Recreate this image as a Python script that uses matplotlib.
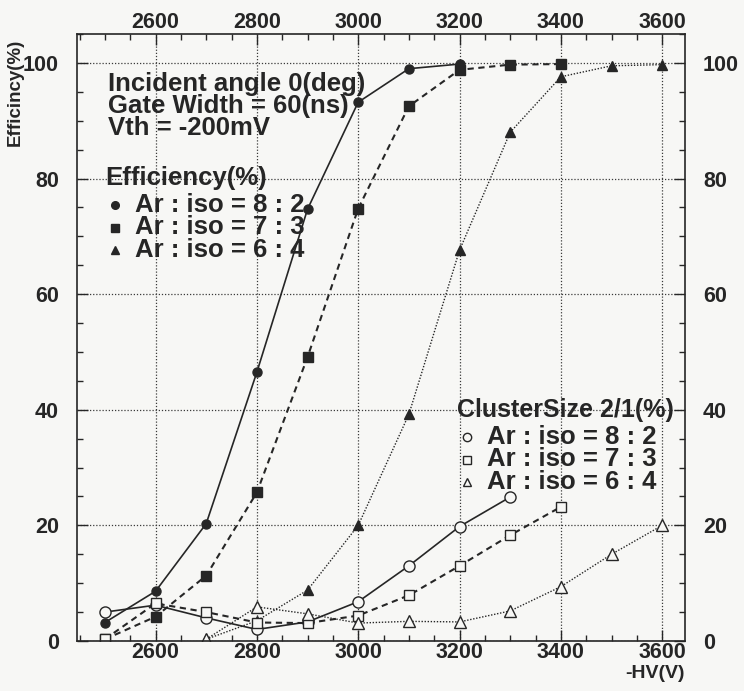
import matplotlib
matplotlib.use('Agg')
import matplotlib.pyplot as plt
from matplotlib.lines import Line2D
from matplotlib.ticker import MultipleLocator

plt.rcParams['font.family'] = ['Liberation Sans', 'DejaVu Sans']
plt.rcParams['font.weight'] = 'bold'

INK = '#262626'
PAPER = '#f7f7f5'

# efficiency (%) vs -HV for the three gas mixtures
eff_82_hv = [2500, 2600, 2700, 2800, 2900, 3000, 3100, 3200]
eff_82 = [3.2, 8.6, 20.3, 46.5, 74.7, 93.2, 99.0, 99.8]

eff_73_hv = [2500, 2600, 2700, 2800, 2900, 3000, 3100, 3200, 3300, 3400]
eff_73 = [0.3, 4.2, 11.3, 25.7, 49.1, 74.8, 92.5, 98.8, 99.7, 99.8]

eff_64_hv = [2700, 2800, 2900, 3000, 3100, 3200, 3300, 3400, 3500, 3600]
eff_64 = [0.3, 3.5, 8.8, 20.0, 39.2, 67.6, 88.0, 97.6, 99.5, 99.7]

# cluster size 2/1 ratio (%)
cs_82_hv = [2500, 2600, 2700, 2800, 2900, 3000, 3100, 3200, 3300]
cs_82 = [5.0, 6.2, 4.0, 2.0, 3.3, 6.8, 13.0, 19.8, 24.9]

cs_73_hv = [2500, 2600, 2700, 2800, 2900, 3000, 3100, 3200, 3300, 3400]
cs_73 = [0.3, 6.5, 5.0, 3.2, 3.1, 4.4, 7.9, 13.0, 18.3, 23.2]

cs_64_hv = [2700, 2800, 2900, 3000, 3100, 3200, 3300, 3400, 3500, 3600]
cs_64 = [0.3, 5.9, 4.7, 3.1, 3.4, 3.3, 5.2, 9.4, 15.0, 20.0]

mix_labels = ['Ar : iso = 8 : 2', 'Ar : iso = 7 : 3', 'Ar : iso = 6 : 4']

solid = dict(ls='-', lw=1.2)
dashed = dict(ls=(0, (3.0, 2.2)), lw=1.5)
dotted = dict(ls=(0, (1.0, 1.2)), lw=1.0)

fig = plt.figure(figsize=(7.44, 6.91), dpi=100, facecolor=PAPER)
ax = fig.add_axes([77 / 744, 1 - 641 / 691, 608 / 744, 607 / 691])
ax.set_facecolor(PAPER)

ax.set_xlim(2445, 3645)
ax.set_ylim(0, 105)

# efficiency curves (filled markers)
ax.plot(eff_82_hv, eff_82, color=INK, marker='o', ms=6.5, mfc=INK, mec=INK, **solid)
ax.plot(eff_73_hv, eff_73, color=INK, marker='s', ms=6.5, mfc=INK, mec=INK, **dashed)
ax.plot(eff_64_hv, eff_64, color=INK, marker='^', ms=7, mfc=INK, mec=INK, **dotted)

# cluster size curves (open markers)
ax.plot(cs_82_hv, cs_82, color=INK, marker='o', ms=8, mfc=PAPER, mec=INK, mew=1.0, **solid)
ax.plot(cs_73_hv, cs_73, color=INK, marker='s', ms=7.5, mfc=PAPER, mec=INK, mew=1.0, **dashed)
ax.plot(cs_64_hv, cs_64, color=INK, marker='^', ms=8, mfc=PAPER, mec=INK, mew=1.0, **dotted)

# axes, ticks, grid
ax.xaxis.set_minor_locator(MultipleLocator(50))
ax.yaxis.set_minor_locator(MultipleLocator(5))
ax.set_xticks([2600, 2800, 3000, 3200, 3400, 3600])
ax.set_yticks([0, 20, 40, 60, 80, 100])

ax.tick_params(which='both', direction='in', top=True, right=True, colors=INK, width=1.0)
ax.tick_params(which='major', length=8)
ax.tick_params(which='minor', length=4)
ax.tick_params(axis='x', which='major', labelsize=15.5, labeltop=True, pad=0.5)
ax.tick_params(axis='y', which='major', labelsize=15.5, labelright=True, pad=13)
for lbl in ax.get_xticklabels() + ax.get_yticklabels():
    lbl.set_fontweight('bold')

for sp in ax.spines.values():
    sp.set_color(INK)
    sp.set_linewidth(1.2)

ax.grid(True, which='major', ls=(0, (1.0, 1.5)), lw=0.9, color='#3a3a3a')
ax.set_axisbelow(True)

# axis titles
fig.text(15 / 744, 1 - 92 / 691, 'Efficincy(%)', rotation=90, ha='center', va='center',
         fontsize=13.5, fontweight='bold', color=INK)
fig.text(685 / 744, 1 - 673 / 691, '-HV(V)', ha='right', va='center',
         fontsize=14, fontweight='bold', color=INK)

# run conditions
for i, line in enumerate(['Incident angle 0(deg)', 'Gate Width = 60(ns)', 'Vth = -200mV']):
    fig.text(108 / 744, 1 - (84 + 22 * i) / 691, line, ha='left', va='center',
             fontsize=18.5, fontweight='bold', color=INK)

# legend blocks
eff_styles = [dict(marker='o', ms=5.5, mfc=INK), dict(marker='s', ms=5.5, mfc=INK),
              dict(marker='^', ms=6, mfc=INK)]
cs_styles = [dict(marker='o', ms=6, mfc=PAPER), dict(marker='s', ms=6, mfc=PAPER),
             dict(marker='^', ms=6, mfc=PAPER)]


def legend_block(title, styles, x_mark, x_text, y_title, title_size):
    fig.text(x_mark - 10 / 744, 1 - y_title / 691, title,
             ha='left', va='center', fontsize=title_size, fontweight='bold', color=INK)
    for i, (lbl, st) in enumerate(zip(mix_labels, styles)):
        y = 1 - (y_title + 27 + 22.5 * i) / 691
        fig.add_artist(Line2D([x_mark], [y], transform=fig.transFigure, ls='none',
                              mec=INK, mew=1.0, color=INK, **st))
        fig.text(x_text, y, lbl, ha='left', va='center', fontsize=18.5,
                 fontweight='bold', color=INK)


legend_block('Efficiency(%)', eff_styles, 115 / 744, 135 / 744, 178, 18.5)
legend_block('ClusterSize 2/1(%)', cs_styles, 467 / 744, 487 / 744, 410, 18)

fig.savefig('out.png', dpi=100, facecolor=PAPER)
